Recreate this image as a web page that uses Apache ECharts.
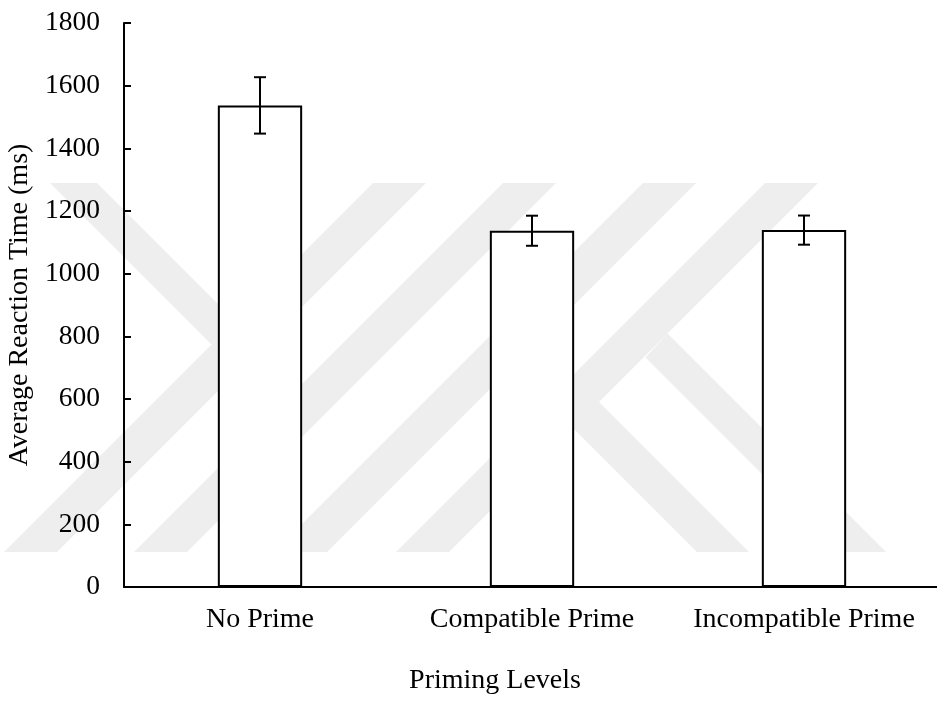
<!DOCTYPE html>
<html>
<head>
<meta charset="utf-8">
<title>Average Reaction Time by Priming Level</title>
<script src="https://cdn.jsdelivr.net/npm/echarts@6/dist/echarts.min.js"></script>
<style>
  html, body { margin: 0; padding: 0; background: #fff; }
  #chart { width: 937px; height: 704px; }
</style>
</head>
<body>
<div id="chart"></div>
<script>
// values
const categories = ["No Prime", "Compatible Prime", "Incompatible Prime"];
const meanRT = [1537, 1137, 1139];
const errRT = [90, 48, 46.5];
const yTicks = { min: 0, max: 1800, step: 200 };

const FONT = "Liberation Serif";
const INK = "#000";

// faint thesis watermark behind the plot (decoration only)
const watermarkColor = "#eeeeee";
const watermarkShapes = [
  [[50, 183], [97, 183], [235, 321], [211.5, 344.5]],
  [[373, 183], [426, 183], [57, 552], [4, 552]],
  [[503, 183], [556, 183], [187, 552], [134, 552]],
  [[643, 183], [696, 183], [327, 552], [274, 552]],
  [[765, 183], [818, 183], [449, 552], [396, 552]],
  [[538, 341], [749, 552], [697, 552], [512, 367]],
  [[667.5, 333.5], [886, 552], [840, 552], [645.5, 357.5]],
];

const chart = echarts.init(document.getElementById("chart"));

const option = {
  backgroundColor: "#fff",
  animation: false,
  textStyle: { fontFamily: FONT, color: INK },
  graphic: watermarkShapes.map((pts) => ({
    type: "polygon",
    z: -10,
    silent: true,
    shape: { points: pts },
    style: { fill: watermarkColor },
  })),
  grid: { left: 124, right: -3, top: 23, bottom: 117, containLabel: false, outerBoundsMode: "none" },
  xAxis: {
    type: "category",
    data: categories,
    name: "Priming Levels",
    nameLocation: "middle",
    nameGap: 80,
    nameTextStyle: { fontFamily: FONT, fontSize: 28, color: INK, padding: [0, 74, 0, 0] },
    axisLine: { lineStyle: { color: INK, width: 2 } },
    axisTick: { inside: true, length: 9, lineStyle: { color: INK, width: 2 } },
    axisLabel: { fontFamily: FONT, fontSize: 28, color: INK, margin: 19, interval: 0 },
    splitLine: { show: false },
  },
  yAxis: {
    type: "value",
    min: yTicks.min,
    max: yTicks.max,
    interval: yTicks.step,
    name: "Average Reaction Time (ms)",
    nameLocation: "middle",
    nameGap: 87,
    nameTextStyle: { fontFamily: FONT, fontSize: 28, color: INK },
    axisLine: { show: true, lineStyle: { color: INK, width: 2 } },
    axisTick: { show: true, inside: true, length: 7, lineStyle: { color: INK, width: 2 } },
    axisLabel: { fontFamily: FONT, fontSize: 27.5, color: INK, margin: 24, formatter: (v) => String(v) },
    splitLine: { show: false },
  },
  series: [
    {
      name: "Mean RT",
      type: "bar",
      data: meanRT,
      barWidth: "31%",
      itemStyle: { color: "#fff", borderColor: INK, borderWidth: 2 },
      z: 2,
    },
    {
      name: "SE",
      type: "custom",
      z: 3,
      data: meanRT.map((m, i) => [i, m - errRT[i], m + errRT[i]]),
      renderItem: (params, api) => {
        const lo = api.coord([api.value(0), api.value(1)]);
        const hi = api.coord([api.value(0), api.value(2)]);
        const cap = 6;
        const style = { stroke: INK, lineWidth: 2 };
        return {
          type: "group",
          children: [
            { type: "line", shape: { x1: hi[0], y1: hi[1], x2: lo[0], y2: lo[1] }, style },
            { type: "line", shape: { x1: hi[0] - cap, y1: hi[1], x2: hi[0] + cap, y2: hi[1] }, style },
            { type: "line", shape: { x1: lo[0] - cap, y1: lo[1], x2: lo[0] + cap, y2: lo[1] }, style },
          ],
        };
      },
    },
  ],
};

chart.setOption(option);
</script>
</body>
</html>
